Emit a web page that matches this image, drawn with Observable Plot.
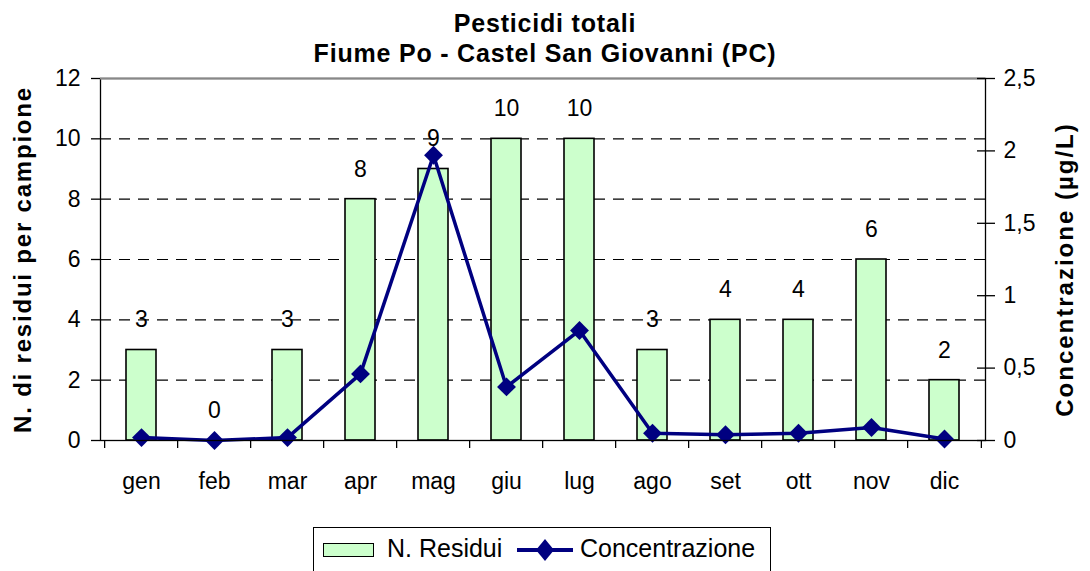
<!DOCTYPE html>
<html><head><meta charset="utf-8">
<script src="https://cdn.jsdelivr.net/npm/d3@7"></script>
<script src="https://cdn.jsdelivr.net/npm/@observablehq/plot@0.6"></script>
<style>
body{margin:0;background:#fff;font-family:"Liberation Sans",Arial,sans-serif;color:#000;}
#wrap{width:1090px;height:571px;overflow:hidden;position:relative;background:#fff}
#title{padding-top:8px;height:60px}
.t{font-weight:bold;font-size:25px;line-height:30px;text-align:center;letter-spacing:0.8px;white-space:nowrap}
#legend{position:relative;margin-left:313px;width:456px;height:50px;border:1px solid #000;box-sizing:content-box}
#legend .sw{position:absolute;left:9px;top:15px;width:49px;height:12px;background:#CCFFCC;border:1px solid #000}
#legend .lt{position:absolute;top:5px;font-size:25px;line-height:30px;white-space:nowrap}
#legend svg{position:absolute;left:203px;top:7px}
</style></head>
<body>
<div id="wrap">
  <div id="title"><div class="t">Pesticidi totali</div><div class="t">Fiume Po - Castel San Giovanni (PC)</div></div>
  <div id="chart"></div>
  <div id="legend">
    <div class="sw"></div>
    <div class="lt" style="left:73px">N. Residui</div>
    <svg width="56" height="30"><line x1="0" x2="56" y1="15" y2="15" stroke="#000080" stroke-width="4"/><path d="M28,4L37,15L28,26L19,15Z" fill="#000080"/></svg>
    <div class="lt" style="left:266px">Concentrazione</div>
  </div>
</div>
<script>
const months = ["gen","feb","mar","apr","mag","giu","lug","ago","set","ott","nov","dic"];
const residui = [3,0,3,8,9,10,10,3,4,4,6,2];
const concentrazione = [0.02,0,0.02,0.46,1.97,0.37,0.76,0.05,0.04,0.05,0.09,0.01];
const leftTicks = [0,2,4,6,8,10,12];
const gridTicks = [2,4,6,8,10];
const rightTicks = [0,0.5,1,1.5,2,2.5];
const leftTitle = "N. di residui per campione";
const rightTitle = "Concentrazione (\u00b5g/L)";
const yMax = 12, concMax = 2.5;
const k = yMax / concMax;

const data = months.map((m, i) => ({mese: m, residui: residui[i], conc: concentrazione[i]}));

const W = 1090, H = 459, mL = 100, mR = 105, mT = 10, mB = 87;
const step = (W - mL - mR) / months.length;
const fmt = v => String(Math.round(v / k * 10) / 10).replace(".", ",");
const font = "'Liberation Sans', Arial, sans-serif";

const plot = Plot.plot({
  width: W, height: H, marginTop: mT, marginBottom: mB, marginLeft: mL, marginRight: mR,
  style: {fontFamily: font, fontSize: "23px", color: "#000", background: "transparent", overflow: "visible"},
  x: {domain: months, paddingInner: 0.593, paddingOuter: 0.2965, axis: null},
  y: {domain: [0, yMax], axis: null},
  marks: [
    Plot.ruleY(gridTicks, {stroke: "#000", strokeWidth: 1.2, strokeDasharray: "11,8"}),
    Plot.barY(data, {x: "mese", y: "residui", fill: "#CCFFCC", stroke: "#000", strokeWidth: 1.6}),
    Plot.text(data, {x: "mese", y: "residui", text: d => String(d.residui), dy: -30, fontSize: 23, fill: "#000"}),
    Plot.line(data, {x: "mese", y: d => d.conc * k, stroke: "#000080", strokeWidth: 3.5}),
    Plot.dot(data, {x: "mese", y: d => d.conc * k, symbol: "diamond2", r: 8.5, fill: "#000080", stroke: "none"}),
    Plot.frame({stroke: "#000", strokeWidth: 1.3}),
    Plot.ruleY([yMax], {stroke: "#888", strokeWidth: 2}),
    Plot.ruleX(months, {x: d => d, dx: -step / 2, y1: 0, y2: 0, insetBottom: -8, stroke: "#000", strokeWidth: 1.3}),
    Plot.ruleX(months.slice(-1), {x: d => d, dx: step / 2, y1: 0, y2: 0, insetBottom: -8, stroke: "#000", strokeWidth: 1.3}),
    Plot.axisX({tickSize: 0, tickPadding: 32, fontSize: 23, label: null}),
    Plot.axisY({anchor: "left", ticks: leftTicks, tickSize: 9, tickPadding: 11, fontSize: 23, label: null, strokeWidth: 1.3}),
    Plot.axisY({anchor: "right", ticks: rightTicks.map(v => v * k), tickSize: 18, dx: -9, tickFormat: () => "", label: null, strokeWidth: 1.3}),
    Plot.axisY({anchor: "right", ticks: rightTicks.map(v => v * k), tickSize: 0, tickPadding: 18, tickFormat: fmt, fontSize: 23, label: null}),
    Plot.text([leftTitle], {frameAnchor: "left", textAnchor: "middle", text: d => d, rotate: -90, dx: -77, fontSize: 24, fontWeight: "bold", fill: "#000"}),
    Plot.text([rightTitle], {frameAnchor: "right", textAnchor: "middle", text: d => d, rotate: -90, dx: 80, dy: 10, fontSize: 24, fontWeight: "bold", fill: "#000"})
  ]
});

plot.querySelectorAll("text").forEach(t => {
  if (t.textContent === leftTitle) t.style.letterSpacing = "1.8px";
  if (t.textContent === rightTitle) t.style.letterSpacing = "2px";
});
document.getElementById("chart").appendChild(plot);
</script>
</body></html>
